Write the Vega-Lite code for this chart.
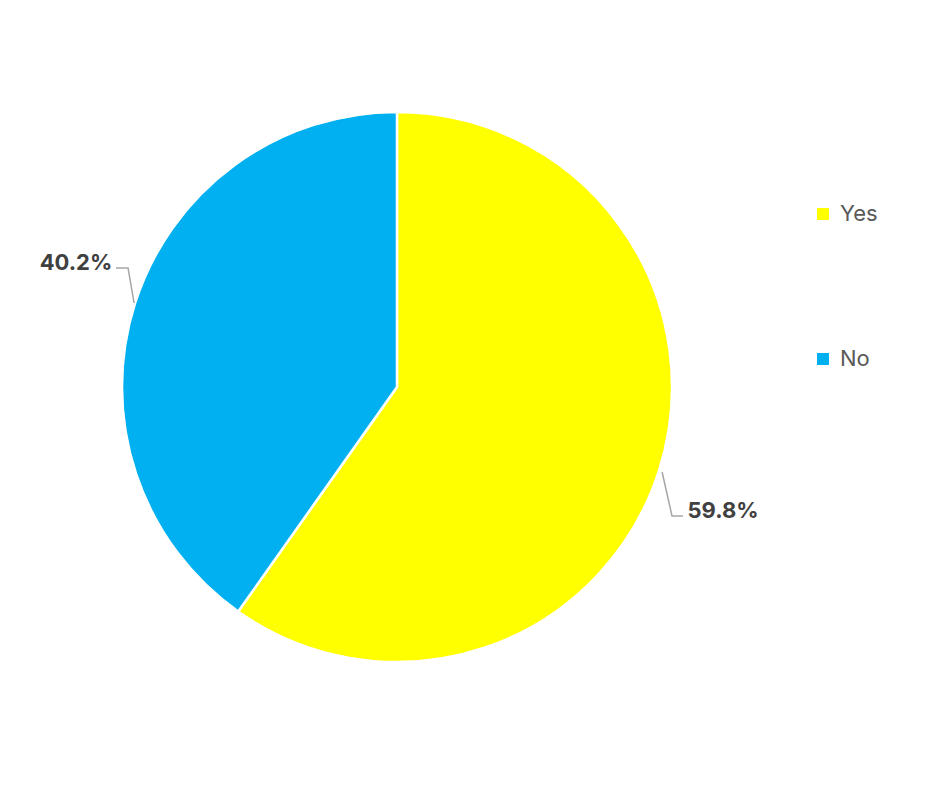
{
  "$schema": "https://vega.github.io/schema/vega-lite/v6.json",
  "width": 794,
  "height": 774,
  "padding": 0,
  "background": "white",
  "config": {"view": {"stroke": null}, "font": "Inter"},
  "datasets": {
    "pie": [
      {"category": "Yes", "value": 59.8, "label": "59.8%"},
      {"category": "No", "value": 40.2, "label": "40.2%"}
    ],
    "leaders": [
      {"seg": "No", "k": 0, "px": -1.022, "py": 0.433},
      {"seg": "No", "k": 1, "px": -0.978, "py": 0.433},
      {"seg": "No", "k": 2, "px": -0.956, "py": 0.305},
      {"seg": "Yes", "k": 0, "px": 0.964, "py": -0.309},
      {"seg": "Yes", "k": 1, "px": 1.0, "py": -0.469},
      {"seg": "Yes", "k": 2, "px": 1.04, "py": -0.469}
    ]
  },
  "layer": [
    {
      "data": {"name": "pie"},
      "mark": {"type": "arc", "radius": 275, "stroke": "white", "strokeWidth": 2.5},
      "encoding": {
        "theta": {"field": "value", "type": "quantitative", "stack": true},
        "order": {"field": "category", "sort": "descending"},
        "color": {
          "field": "category",
          "type": "nominal",
          "scale": {"domain": ["Yes", "No"], "range": ["#FFFF00", "#00B0F0"]},
          "legend": {
            "orient": "none",
            "legendX": 812,
            "legendY": 203,
            "title": null,
            "symbolType": "square",
            "symbolSize": 144,
            "symbolStrokeWidth": 0,
            "labelFontSize": 22,
            "labelColor": "#595959",
            "labelOffset": 6,
            "rowPadding": 123
          }
        }
      }
    },
    {
      "data": {"name": "pie"},
      "mark": {"type": "text", "radius": 339, "dx": 2, "dy": -21, "fontSize": 22, "fontWeight": "bold", "color": "#404040"},
      "encoding": {
        "theta": {"field": "value", "type": "quantitative", "stack": true},
        "order": {"field": "category", "sort": "descending"},
        "text": {"condition": {"test": "datum.category === 'No'", "field": "label"}, "value": ""}
      }
    },
    {
      "data": {"name": "pie"},
      "mark": {"type": "text", "radius": 339, "dx": 3, "dy": 21, "fontSize": 22, "fontWeight": "bold", "color": "#404040"},
      "encoding": {
        "theta": {"field": "value", "type": "quantitative", "stack": true},
        "order": {"field": "category", "sort": "descending"},
        "text": {"condition": {"test": "datum.category === 'Yes'", "field": "label"}, "value": ""}
      }
    },
    {
      "data": {"name": "leaders"},
      "mark": {"type": "line", "color": "#a6a6a6", "strokeWidth": 1.5},
      "encoding": {
        "x": {"field": "px", "type": "quantitative", "scale": {"domain": [-1.4436, 1.4436]}, "axis": null},
        "y": {"field": "py", "type": "quantitative", "scale": {"domain": [-1.4073, 1.4073]}, "axis": null},
        "detail": {"field": "seg"},
        "order": {"field": "k"}
      }
    }
  ]
}
